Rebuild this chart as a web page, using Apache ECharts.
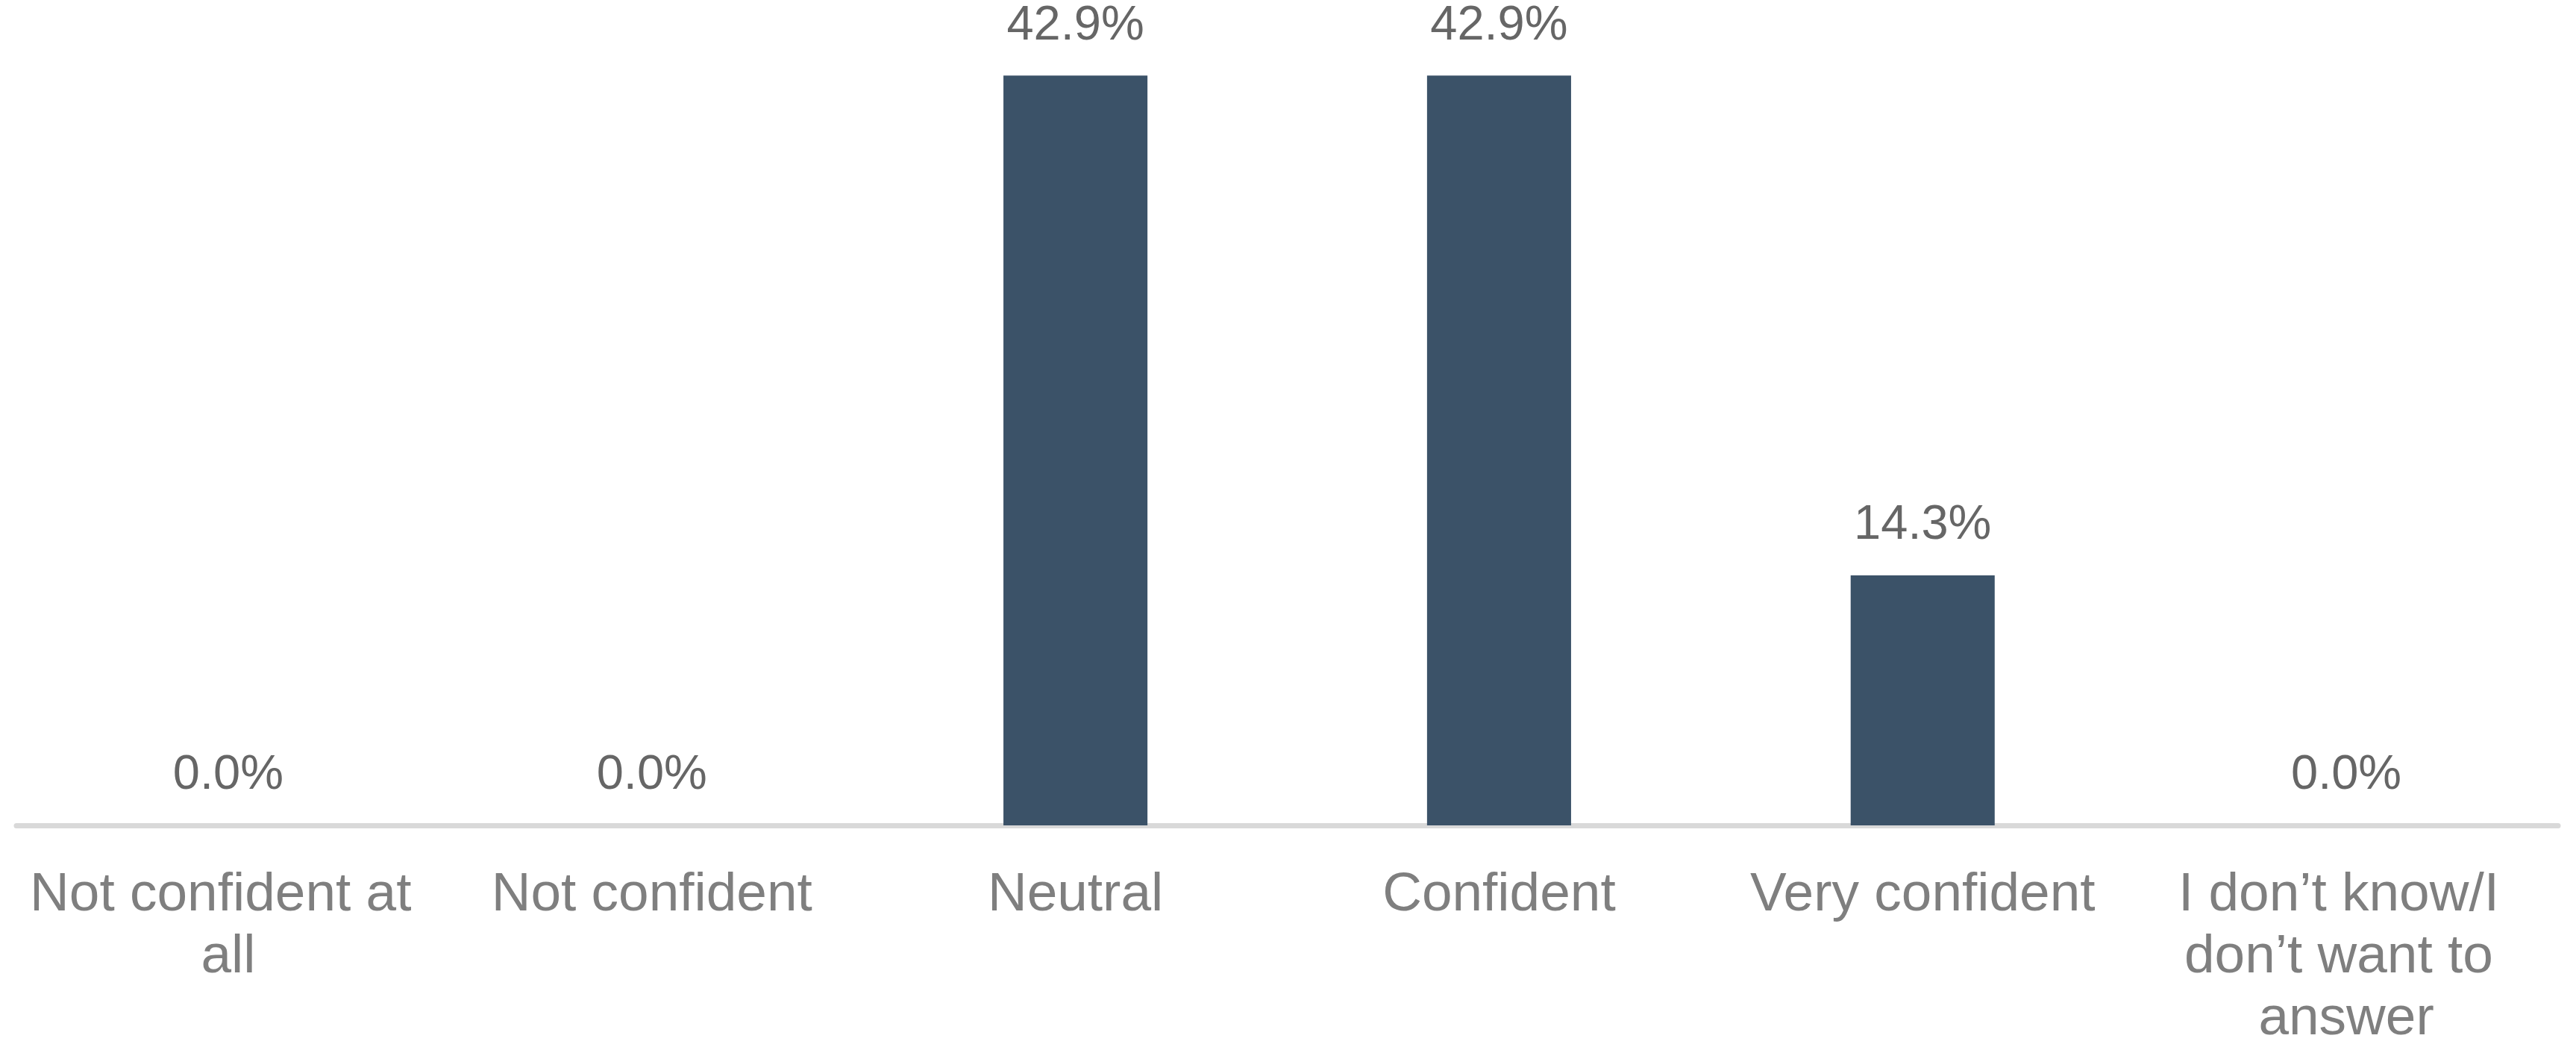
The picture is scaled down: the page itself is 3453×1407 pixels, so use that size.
<!DOCTYPE html>
<html>
<head>
<meta charset="utf-8">
<script src="https://cdn.jsdelivr.net/npm/echarts@6/dist/echarts.min.js"></script>
<style>
  html, body { margin: 0; padding: 0; background: #fff; }
  #chart { width: 3453px; height: 1407px; }
</style>
</head>
<body>
<div id="chart"></div>
<script>
const categories = [
  "Not confident at all",
  "Not confident",
  "Neutral",
  "Confident",
  "Very confident",
  "I don’t know/I don’t want to answer"
];
const shares = [0.0, 0.0, 42.9, 42.9, 14.3, 0.0];

const chart = echarts.init(document.getElementById("chart"));

const option = {
  animation: false,
  backgroundColor: "#ffffff",
  textStyle: { fontFamily: "'Liberation Sans', Arial, sans-serif" },
  grid: { left: 22, right: 24, top: 52, bottom: 300 },
  xAxis: {
    type: "category",
    data: categories,
    axisLine: { show: true, lineStyle: { color: "#d9d9d9", width: 7 } },
    axisTick: { show: false },
    axisLabel: {
      color: "#7f7f7f",
      fontSize: 73,
      lineHeight: 83,
      margin: 52,
      interval: 0,
      width: 545,
      overflow: "break"
    }
  },
  yAxis: {
    type: "value",
    min: 0,
    max: 45,
    show: false,
    splitLine: { show: false }
  },
  series: [
    {
      type: "bar",
      data: shares,
      barWidth: "34%",
      itemStyle: { color: "#3b5268" },
      label: {
        show: true,
        position: "top",
        distance: 34,
        color: "#666666",
        fontSize: 65,
        formatter: (p) => p.value.toFixed(1) + "%" // one decimal like the source
      }
    }
  ]
};

chart.setOption(option);
window.addEventListener("resize", () => chart.resize());
</script>
</body>
</html>
